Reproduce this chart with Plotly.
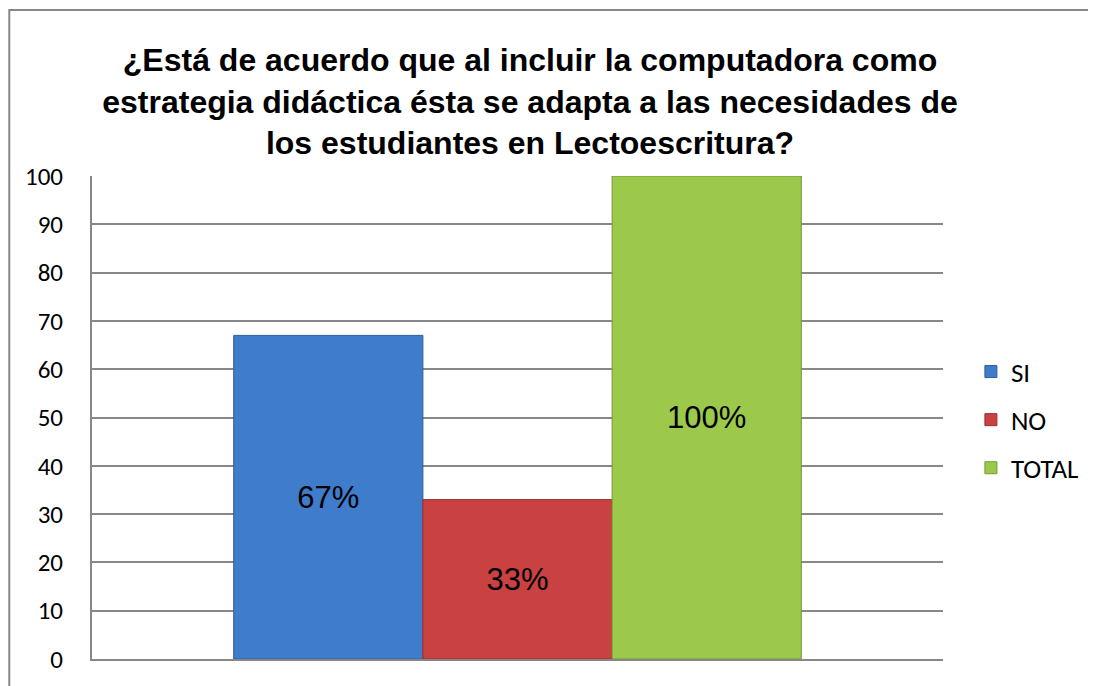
import plotly.graph_objects as go

# datos del gráfico
series = ["SI", "NO", "TOTAL"]
valores = [67, 33, 100]
etiquetas = ["67%", "33%", "100%"]
colores = ["#3F7CCB", "#C94141", "#9CC94B"]
bordes = ["#2F5E9E", "#983030", "#74983A"]
categoria = [""]
ticks_y = list(range(0, 101, 10))

titulo = ("¿Está de acuerdo que al incluir la computadora como<br>"
          "estrategia didáctica ésta se adapta a las necesidades de<br>"
          "los estudiantes en Lectoescritura?")

# la página añade 8px de margen al body
W, H = 1088, 678
ML, MR, MT, MB = 84, 150, 168, 27
PW, PH = W - ML - MR, H - MT - MB

fig = go.Figure()
for i, nombre in enumerate(series):
    fig.add_trace(go.Bar(
        name=nombre,
        x=categoria,
        y=[valores[i]],
        text=[etiquetas[i]],
        textposition="inside",
        insidetextanchor="middle",
        textfont=dict(family="Liberation Sans, Arial", size=31, color="black"),
        marker=dict(color=colores[i], line=dict(color=bordes[i], width=1)),
        legendgroup=nombre,
    ))

# marco exterior del gráfico
fig.add_shape(
    type="rect", xref="paper", yref="paper",
    x0=(1 - ML) / PW, x1=(W + 20 - ML) / PW,
    y0=(MT + PH - (H + 20)) / PH, y1=(MT + PH - 2) / PH,
    line=dict(color="#878787", width=2), fillcolor="rgba(0,0,0,0)", layer="below",
)

fig.update_layout(
    width=W, height=H,
    margin=dict(l=ML, r=MR, t=MT, b=MB),
    paper_bgcolor="white", plot_bgcolor="white",
    barmode="group", bargap=0.333, bargroupgap=0,
    title=dict(
        text=titulo, x=522 / W, xanchor="center",
        y=1 - 63 / H, yanchor="middle", yref="container",
        font=dict(family="Liberation Sans, Arial", size=32, color="black", weight="bold"),
    ),
    xaxis=dict(showticklabels=False, showgrid=False, showline=True,
               linecolor="#878787", linewidth=2, ticks=""),
    yaxis=dict(range=[0, 100], tickvals=ticks_y, showgrid=True,
               gridcolor="#878787", gridwidth=1.5, showline=True,
               linecolor="#878787", linewidth=2, ticks="", zeroline=False,
               ticklabelstandoff=22,
               tickfont=dict(family="Calibri, Carlito, Lato", size=25, color="black")),
    legend=dict(
        x=(966 - ML) / PW, xanchor="left",
        y=(MT + PH - 412) / PH, yanchor="middle",
        traceorder="grouped", tracegroupgap=10,
        font=dict(family="Calibri, Carlito, Lato", size=27, color="black"),
        itemwidth=30,
    ),
    showlegend=True,
)

fig.write_html("out.html")
